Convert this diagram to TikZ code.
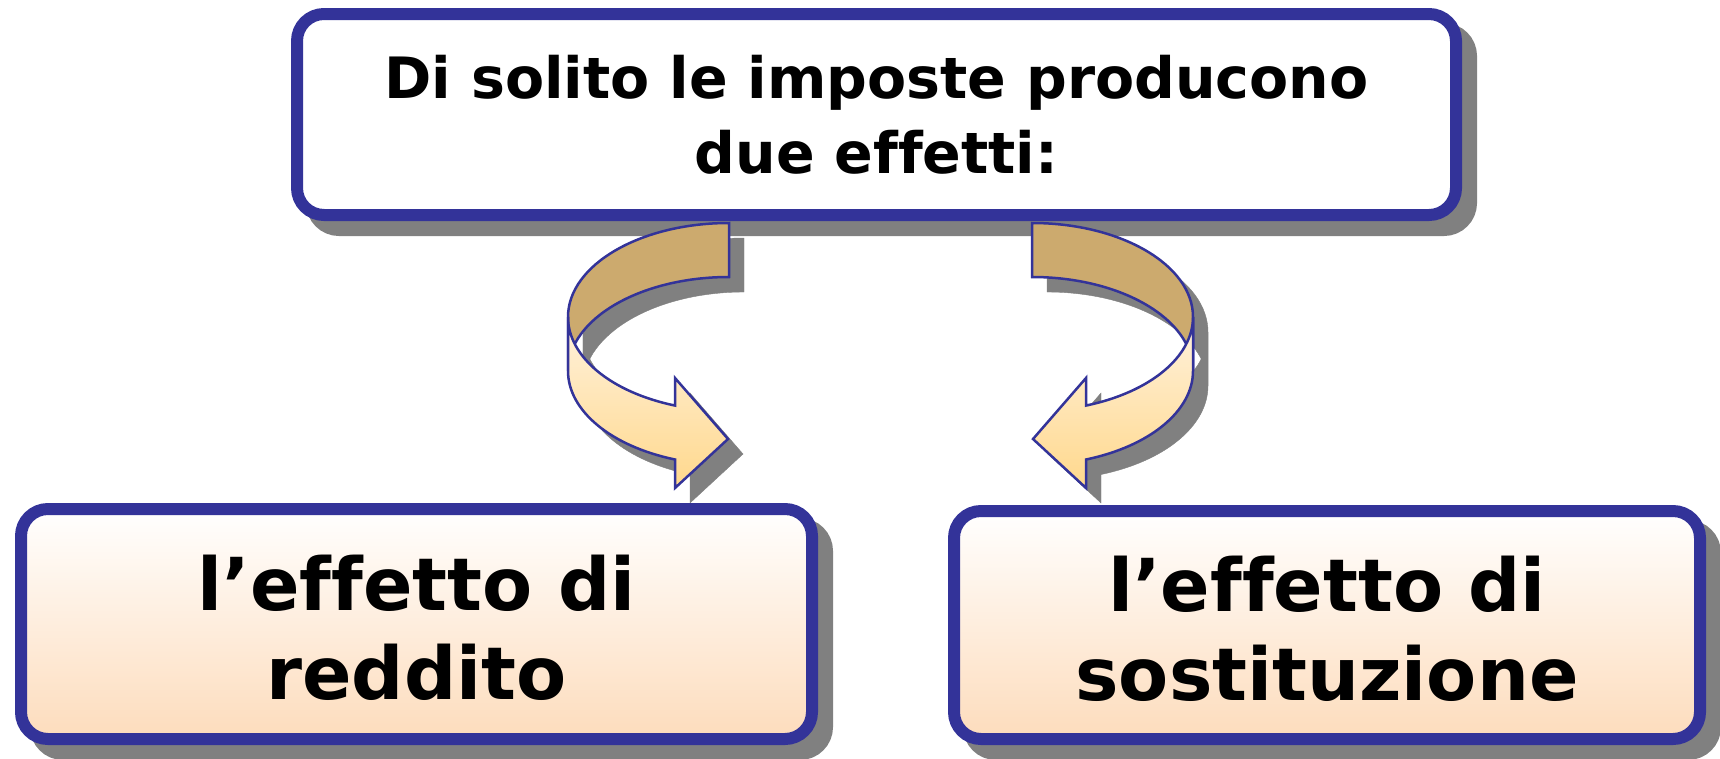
\documentclass[tikz,border=0pt]{standalone}
\usepackage{fontspec}
\setmainfont{DejaVu Sans}[Ligatures=NoCommon]
\usetikzlibrary{shadows, calc}
\definecolor{frame}{RGB}{51, 51, 153}
\definecolor{shadowgray}{RGB}{128, 128, 128}
\definecolor{peach}{RGB}{253, 220, 188}
\definecolor{backtan}{RGB}{204, 170, 110}
\definecolor{frontlight}{RGB}{255, 242, 222}
\definecolor{frontdark}{RGB}{255, 216, 140}

\tikzset{
    flat shadow/.style={drop shadow={shadow xshift=15pt, shadow yshift=-15pt, opacity=1, fill=shadowgray, draw=shadowgray}},
    box/.style={draw=frame, line width=12pt, rounded corners=27pt, align=center, flat shadow},
    backface/.style={draw=frame, line width=2.5pt, fill=backtan, flat shadow},
    frontface/.style={draw=frame, line width=2.5pt, top color=frontlight, bottom color=frontdark, flat shadow},
}

\begin{document}
\begin{tikzpicture}[x=1pt, y=1pt]
    \useasboundingbox (0,0) rectangle (1720,-758);

    % Question
    \node[box, fill=white, minimum width=1159pt, minimum height=201pt, font=\bfseries\fontsize{57}{75}\selectfont] (taxes) at (876.5,-114.5) {Di solito le imposte producono\\due effetti:};

    % Ring centres
    \coordinate (lring) at ($(taxes.south)+(-147.5,-96)$);
    \coordinate (rring) at ($(taxes.south)+(155.5,-96)$);

    % Left ribbon arrow
    \begin{scope}[shift={(lring)}]
        \draw[backface] (0,94) arc[start angle=90, end angle=180, x radius=161, y radius=94] -- (-161,-54) arc[start angle=180, end angle=90, x radius=161, y radius=94] -- cycle;
        \draw[frontface] (-161,0) arc[start angle=180, end angle=250.4, x radius=161, y radius=94] -- (-54,-61) -- (-1,-122) -- (-54,-171) -- (-54,-142.5) arc[start angle=250.4, end angle=180, x radius=161, y radius=94] -- cycle;
    \end{scope}

    % Right ribbon arrow
    \begin{scope}[shift={(rring)}]
        \draw[backface] (0,94) arc[start angle=90, end angle=0, x radius=161, y radius=94] -- (161,-54) arc[start angle=0, end angle=90, x radius=161, y radius=94] -- cycle;
        \draw[frontface] (161,0) arc[start angle=0, end angle=-70.4, x radius=161, y radius=94] -- (54,-61) -- (1,-122) -- (54,-171) -- (54,-142.5) arc[start angle=-70.4, end angle=0, x radius=161, y radius=94] -- cycle;
    \end{scope}

    % Effects
    \node[box, top color=white, bottom color=peach, minimum width=791pt, minimum height=230pt, font=\bfseries\fontsize{73}{89}\selectfont] (income) at (416.5,-624) {\rule{0pt}{64pt}l’effetto di\\reddito};
    \node[box, top color=white, bottom color=peach, minimum width=746pt, minimum height=228pt, font=\bfseries\fontsize{73}{89}\selectfont] (subst) at (1327,-625) {\rule{0pt}{64pt}l’effetto di\\sostituzione};
\end{tikzpicture}
\end{document}
